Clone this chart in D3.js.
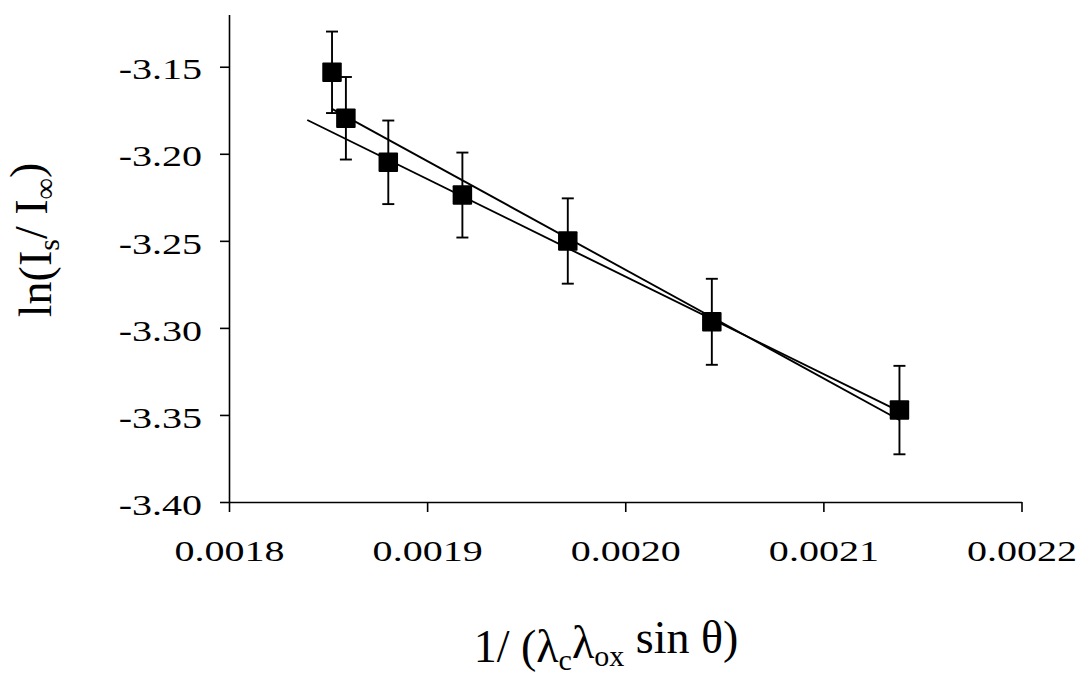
<!DOCTYPE html>
<html>
<head>
<meta charset="utf-8">
<script src="https://cdn.jsdelivr.net/npm/d3@7"></script>
<style>
  body { margin: 0; background: #fff; }
  svg { display: block; font-family: "Liberation Serif", "Times New Roman", serif; }
</style>
</head>
<body>
<div id="chart"></div>
<script>
// measured points
const xVals = [0.001852, 0.001859, 0.0018804, 0.0019178, 0.001971, 0.0020437, 0.0021384];
const yVals = [-3.1532, -3.1796, -3.2049, -3.2237, -3.2501, -3.2965, -3.3472];
const yErr  = [0.0234, 0.0237, 0.0240, 0.0244, 0.0245, 0.0247, 0.0254];

// the two straight lines (end points)
const fitAll = [[0.001852, -3.1742], [0.0021384, -3.3529]];
const fitExt = [[0.0018395, -3.1806], [0.0021384, -3.3480]];

const xTicks = [0.0018, 0.0019, 0.0020, 0.0021, 0.0022];
const yTicks = [-3.40, -3.35, -3.30, -3.25, -3.20, -3.15];

const width = 1081, height = 675;

const svg = d3.select('#chart').append('svg')
  .attr('width', width)
  .attr('height', height);

const x = d3.scaleLinear().domain([0.0018, 0.0022]).range([229, 1021.5]);
const y = d3.scaleLinear().domain([-3.40, -3.12]).range([502, 14.5]);

// plain hyphen instead of the unicode minus d3 uses
const fmt = p => d => d.toFixed(p);

// axes
const xAxis = svg.append('g')
  .attr('transform', `translate(0,${y(-3.40)})`)
  .call(d3.axisBottom(x).tickValues(xTicks).tickSize(10).tickSizeOuter(0)
    .tickFormat(fmt(4)));

const yAxis = svg.append('g')
  .attr('transform', `translate(${x(0.0018)},0)`)
  .call(d3.axisLeft(y).tickValues(yTicks).tickSize(9).tickSizeOuter(0)
    .tickFormat(fmt(2)));

[xAxis, yAxis].forEach(g => {
  g.select('.domain').attr('stroke', '#000').attr('stroke-width', 1.6);
  g.selectAll('.tick line').attr('stroke', '#000').attr('stroke-width', 1.6);
  g.selectAll('.tick text')
    .attr('fill', '#000')
    .style('font-family', '"Liberation Serif", "Times New Roman", serif')
    .style('font-size', '29px');
});

// tick labels in the picture are drawn wide
xAxis.selectAll('.tick text')
  .attr('y', 59).attr('dy', 0)
  .attr('transform', 'scale(1.38,1)');
yAxis.selectAll('.tick text')
  .attr('x', -27 / 1.38).attr('dy', '0.42em')
  .attr('transform', 'scale(1.38,1)');

// fit lines
const line = d3.line().x(d => x(d[0])).y(d => y(d[1]));
svg.selectAll('path.fit')
  .data([fitExt, fitAll])
  .enter().append('path')
    .attr('class', 'fit')
    .attr('d', line)
    .attr('fill', 'none')
    .attr('stroke', '#000')
    .attr('stroke-width', 1.9);

const pts = xVals.map((v, i) => ({ x: v, y: yVals[i], e: yErr[i] }));

// error bars
const eb = svg.append('g').attr('stroke', '#000').attr('stroke-width', 1.9);
eb.selectAll('line.v')
  .data(pts)
  .enter().append('line')
    .attr('x1', d => x(d.x)).attr('x2', d => x(d.x))
    .attr('y1', d => y(d.y + d.e)).attr('y2', d => y(d.y - d.e));
eb.selectAll('line.top')
  .data(pts)
  .enter().append('line')
    .attr('x1', d => x(d.x) - 6).attr('x2', d => x(d.x) + 6)
    .attr('y1', d => y(d.y + d.e)).attr('y2', d => y(d.y + d.e));
eb.selectAll('line.bot')
  .data(pts)
  .enter().append('line')
    .attr('x1', d => x(d.x) - 6).attr('x2', d => x(d.x) + 6)
    .attr('y1', d => y(d.y - d.e)).attr('y2', d => y(d.y - d.e));

// markers
const ms = 19.5;
svg.selectAll('rect.pt')
  .data(pts)
  .enter().append('rect')
    .attr('class', 'pt')
    .attr('x', d => x(d.x) - ms / 2)
    .attr('y', d => y(d.y) - ms / 2)
    .attr('width', ms)
    .attr('height', ms)
    .attr('rx', 1)
    .attr('fill', '#000');

// axis titles
const xt = svg.append('text')
  .attr('x', 606)
  .attr('y', 662)
  .attr('text-anchor', 'middle')
  .style('font-size', '46px');
xt.append('tspan').text('1/ (λ');
xt.append('tspan').attr('dy', '0.28em').style('font-size', '30px').text('c');
xt.append('tspan').attr('dy', '-0.28em').text('λ');
xt.append('tspan').attr('dy', '0.28em').style('font-size', '30px').text('ox');
xt.append('tspan').attr('dy', '-0.28em').text(' sin θ)');

const yt = svg.append('text')
  .attr('transform', 'translate(51,240) rotate(-90)')
  .attr('text-anchor', 'middle')
  .style('font-size', '46px');
yt.append('tspan').text('ln(I');
yt.append('tspan').attr('dy', '0.28em').style('font-size', '30px').text('s');
yt.append('tspan').attr('dy', '-0.28em').text('/ I');
yt.append('tspan').attr('dy', '0.28em').style('font-size', '30px').text('∞');
yt.append('tspan').attr('dy', '-0.28em').text(')');
</script>
</body>
</html>
